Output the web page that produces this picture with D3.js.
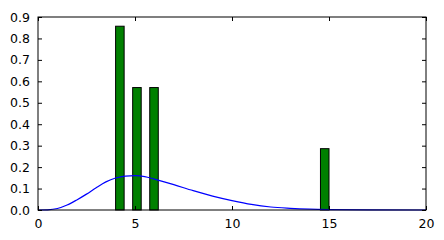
<!DOCTYPE html>
<html>
<head>
<meta charset="utf-8">
<script src="https://cdn.jsdelivr.net/npm/d3@7"></script>
<style>
  body { margin: 0; background: #fff; }
  svg { display: block; }
</style>
</head>
<body>
<div id="chart"></div>
<script>
// histogram bins (left edge, density), bin width 0.44
var binLefts = [4.0, 4.88, 5.76, 14.56];
var binHeights = [0.857, 0.571, 0.571, 0.286];
var binWidth = 0.44;

// fitted density curve
var curveX = [0, 0.5, 1, 1.5, 2, 2.5, 3, 3.5, 4, 4.5, 5, 5.5, 6, 7, 8, 9, 10, 11, 12, 13, 14, 15, 17, 20];
var curveY = [0, 0.001, 0.007, 0.023, 0.047, 0.074, 0.104, 0.131, 0.149, 0.158, 0.160, 0.156, 0.144, 0.118, 0.090, 0.065, 0.044, 0.026, 0.014, 0.008, 0.004, 0.002, 0.0005, 0];

var xTicks = [0, 5, 10, 15, 20];
var yTicks = [0, 0.1, 0.2, 0.3, 0.4, 0.5, 0.6, 0.7, 0.8, 0.9];

var width = 444, height = 240;
var margin = { top: 17, right: 18, bottom: 30, left: 38 };
var w = width - margin.left - margin.right;
var h = height - margin.top - margin.bottom;

var svg = d3.select('#chart').append('svg')
  .attr('width', width)
  .attr('height', height);

var g = svg.append('g')
  .attr('transform', 'translate(' + margin.left + ',' + margin.top + ')');

var x = d3.scaleLinear().domain([0, 20]).range([0, w]);
var y = d3.scaleLinear().domain([0, 0.9]).range([h, 0]);

// bars
g.selectAll('rect.bar')
  .data(binLefts)
  .enter()
  .append('rect')
  .attr('class', 'bar')
  .attr('x', function(d) { return x(d); })
  .attr('y', function(d, i) { return y(binHeights[i]); })
  .attr('width', function(d) { return x(d + binWidth) - x(d); })
  .attr('height', function(d, i) { return y(0) - y(binHeights[i]); })
  .attr('fill', '#008000')
  .attr('stroke', '#000')
  .attr('stroke-width', 1);

// curve
var line = d3.line()
  .x(function(d) { return x(d); })
  .y(function(d, i) { return y(curveY[i]); })
  .curve(d3.curveMonotoneX);

g.append('path')
  .datum(curveX)
  .attr('d', line)
  .attr('fill', 'none')
  .attr('stroke', '#0000ff')
  .attr('stroke-width', 1.2);

// axes, ticks inside on all sides
function styleAxis(sel) {
  sel.attr('font-family', 'DejaVu Sans').attr('font-size', 12.5);
  sel.select('.domain').remove();
  sel.selectAll('line').attr('stroke', '#000');
  sel.selectAll('text').attr('fill', '#000');
}

g.append('g')
  .attr('transform', 'translate(0,' + h + ')')
  .call(d3.axisBottom(x).tickValues(xTicks).tickSizeInner(-4).tickSizeOuter(0).tickPadding(9).tickFormat(d3.format('d')))
  .call(styleAxis);

g.append('g')
  .call(d3.axisTop(x).tickValues(xTicks).tickSizeInner(-4).tickSizeOuter(0).tickFormat(''))
  .call(styleAxis);

g.append('g')
  .call(d3.axisLeft(y).tickValues(yTicks).tickSizeInner(-4).tickSizeOuter(0).tickPadding(8).tickFormat(d3.format('.1f')))
  .call(styleAxis);

g.append('g')
  .attr('transform', 'translate(' + w + ',0)')
  .call(d3.axisRight(y).tickValues(yTicks).tickSizeInner(-4).tickSizeOuter(0).tickFormat(''))
  .call(styleAxis);

// frame
g.append('rect')
  .attr('width', w)
  .attr('height', h)
  .attr('fill', 'none')
  .attr('stroke', '#000')
  .attr('stroke-width', 1);
</script>
</body>
</html>
